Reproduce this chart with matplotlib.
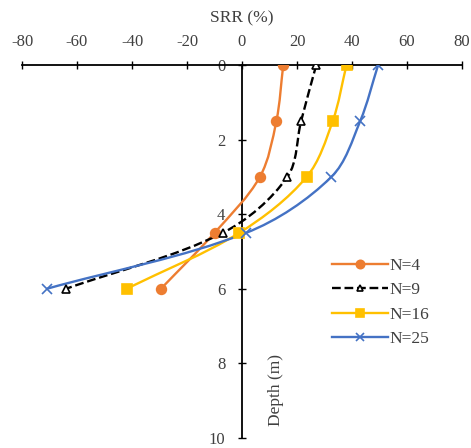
import numpy as np
import matplotlib
matplotlib.use("Agg")
import matplotlib.pyplot as plt
from matplotlib.path import Path
from matplotlib.patches import PathPatch
from matplotlib.lines import Line2D

plt.rcParams["font.family"] = ["Liberation Serif", "DejaVu Serif"]
plt.rcParams["axes.unicode_minus"] = False

depth = [0, 1.5, 3, 4.5, 6]
srr_n4 = [15, 12.5, 6.5, -10, -29.5]
srr_n9 = [27, 21.5, 16.5, -7, -64]
srr_n16 = [38, 33, 23.5, -1, -42]
srr_n25 = [49.5, 43, 32.5, 1.5, -71]
labels = ["N=4", "N=9", "N=16", "N=25"]

styles = [
    dict(color="#ED7D31", ls="-", marker="o", mfc="#ED7D31", ms=7),
    dict(color="#000000", ls="--", marker="^", mfc="white", ms=6),
    dict(color="#FFC000", ls="-", marker="s", mfc="#FFC000", ms=7),
    dict(color="#4472C4", ls="-", marker="x", mfc="#4472C4", ms=7),
]
TXT = "#404040"


def smooth_path(ax, xs, ys):
    """Excel-like smoothed line: cubic Bezier, tangents weighted by segment length (pixel space)."""
    tr = ax.transData
    pts = tr.transform(np.column_stack([xs, ys]).astype(float))
    n = len(pts)
    verts = [pts[0]]
    codes = [Path.MOVETO]
    for i in range(n - 1):
        p0 = pts[i - 1] if i > 0 else pts[i]
        p1, p2 = pts[i], pts[i + 1]
        p3 = pts[i + 2] if i + 2 < n else pts[i + 1]
        d1 = np.linalg.norm(p1 - p0)
        d2 = np.linalg.norm(p2 - p1)
        d3 = np.linalg.norm(p3 - p2)
        c1 = p1 + (p2 - p0) * d2 / (3 * (d1 + d2)) if d1 > 0 else p1 + (p2 - p1) / 3
        c2 = p2 - (p3 - p1) * d2 / (3 * (d2 + d3)) if d3 > 0 else p2 - (p2 - p1) / 3
        verts += [c1, c2, p2]
        codes += [Path.CURVE4] * 3
    verts = tr.inverted().transform(np.array(verts))
    return Path(verts, codes)


fig = plt.figure(figsize=(4.71, 4.48), dpi=100)
ax = fig.add_axes([22 / 471, 1 - 438 / 448, 440 / 471, 373 / 448])
ax.set_xlim(-80, 80)
ax.set_ylim(10, 0)

handles = []
for srr, lab, st in zip([srr_n4, srr_n9, srr_n16, srr_n25], labels, styles):
    ax.add_patch(PathPatch(smooth_path(ax, srr, depth), fill=False,
                           edgecolor=st["color"], lw=1.7, ls=st["ls"], zorder=3))
    ax.plot(srr, depth, ls="none", marker=st["marker"], ms=st["ms"],
            mfc=st["mfc"], mec=st["color"], mew=1.2, zorder=4)
    handles.append(Line2D([], [], color=st["color"], ls=st["ls"], lw=1.7,
                          marker=st["marker"], ms=st["ms"] - 1, mfc=st["mfc"],
                          mec=st["color"], mew=1.2, label=lab))

ax.set_xticks(range(-80, 81, 20))
ax.set_yticks(range(0, 11, 2))

ax.spines["bottom"].set_visible(False)
ax.spines["right"].set_visible(False)
ax.spines["left"].set_position(("data", 0))
for s in ("top", "left"):
    ax.spines[s].set_linewidth(1.3)

ax.xaxis.set_ticks_position("top")
ax.xaxis.set_label_position("top")
ax.tick_params(axis="both", direction="inout", length=6, width=1.0,
               labelsize=12, labelcolor=TXT)
ax.tick_params(axis="x", pad=8)
ax.tick_params(axis="y", pad=9)
ax.set_xlabel("SRR (%)", fontsize=12.5, color=TXT, labelpad=8)

ax.text(12.5, 8.7, "Depth (m)", rotation=90, ha="center", va="center",
        fontsize=12.5, color=TXT)

ax.legend(handles=handles, loc="upper left", bbox_to_anchor=(0.67, 0.525),
          frameon=False, fontsize=12.5, handlelength=3.2, handletextpad=0.1,
          labelspacing=0.48, labelcolor=TXT)

fig.savefig("out.png", dpi=100)
